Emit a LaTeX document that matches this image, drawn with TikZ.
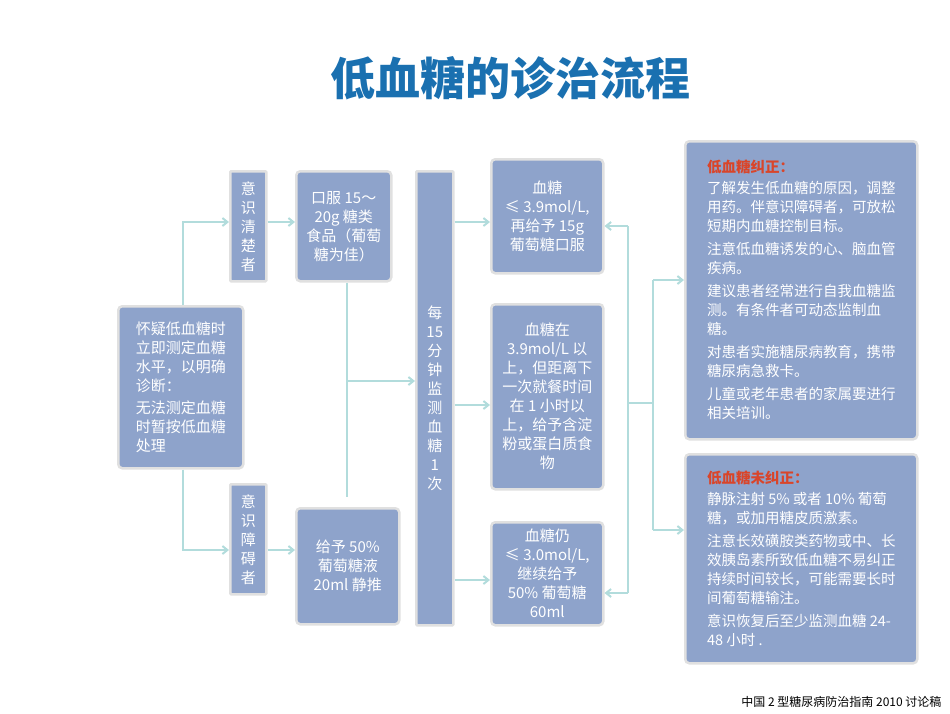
\documentclass[tikz,border=0pt]{standalone}
\usepackage{fontspec}
\setmainfont{Noto Sans CJK SC}
\usetikzlibrary{arrows.meta}
\definecolor{bx}{HTML}{8EA3CB}
\definecolor{ln}{HTML}{B2DCDC}
\definecolor{ttl}{HTML}{1A70B0}
\definecolor{hd}{HTML}{D9452A}
\begin{document}
\begin{tikzpicture}[x=1pt,y=-1pt,
  box/.style={fill=bx,draw=black!12,line width=2.5pt,rounded corners=4pt,text=white,font=\fontsize{15}{19}\selectfont,inner sep=1pt,align=center},
  sq/.style={box,rounded corners=1pt},
  ar/.style={draw=ln,line width=2pt,-{Straight Barb[length=5pt,width=8pt]}},
  li/.style={draw=ln,line width=2pt}]
\useasboundingbox (0,0) rectangle (950,713);
\node[font=\fontsize{45}{50}\selectfont\bfseries,text=ttl] (t) at (510,78) {低血糖的诊治流程};
\node[box,minimum width=125pt,minimum height=162pt,align=left,anchor=north west] (a) at (117,305)
 {怀疑低血糖时\\立即测定血糖\\水平，以明确\\诊断：\\[3pt]无法测定血糖\\时暂按低血糖\\处理};
\node[sq,minimum width=36pt,minimum height=110pt,anchor=north west] (c1) at (229,170) {意\\识\\清\\楚\\者};
\node[sq,minimum width=36pt,minimum height=110pt,anchor=north west] (c2) at (229,483) {意\\识\\障\\碍\\者};
\node[box,minimum width=95pt,minimum height=110pt,anchor=north west] (o1) at (295,170) {口服 15～\\20g 糖类\\食品（葡萄\\糖为佳）};
\node[box,minimum width=103pt,minimum height=116pt,anchor=north west] (o2) at (295,507) {给予 50\%\\葡萄糖液\\20ml 静推};
\node[sq,minimum width=37pt,minimum height=454pt,anchor=north west] (m) at (415,170) {每\\15\\分\\钟\\监\\测\\血\\糖\\1\\次};
\node[box,minimum width=112pt,minimum height=114pt,anchor=north west] (r1) at (490,158) {血糖\\≤ 3.9mol/L,\\再给予 15g\\葡萄糖口服};
\node[box,minimum width=112pt,minimum height=185pt,anchor=north west] (r2) at (490,303) {血糖在\\3.9mol/L 以\\上，但距离下\\一次就餐时间\\在 1 小时以\\上，给予含淀\\粉或蛋白质食\\物};
\node[box,minimum width=112pt,minimum height=103pt,anchor=north west] (r3) at (490,521) {血糖仍\\≤ 3.0mol/L,\\继续给予\\50\% 葡萄糖\\60ml};
\node[box,minimum width=232pt,minimum height=298pt,anchor=north west,align=left,inner sep=5pt,font=\fontsize{14.5}{19}\selectfont] (k1) at (684,140)
 {{\color{hd}\bfseries 低血糖纠正：}\\[2pt]了解发生低血糖的原因，调整\\用药。伴意识障碍者，可放松\\短期内血糖控制目标。\\[4pt]注意低血糖诱发的心、脑血管\\疾病。\\[4pt]建议患者经常进行自我血糖监\\测。有条件者可动态监制血\\糖。\\[4pt]对患者实施糖尿病教育，携带\\糖尿病急救卡。\\[4pt]儿童或老年患者的家属要进行\\相关培训。};
\node[box,minimum width=232pt,minimum height=209pt,anchor=north west,align=left,inner sep=5pt,font=\fontsize{14.5}{19}\selectfont] (k2) at (684,453)
 {{\color{hd}\bfseries 低血糖未纠正：}\\[2pt]静脉注射 5\% 或者 10\% 葡萄\\糖，或加用糖皮质激素。\\[4pt]注意长效磺胺类药物或中、长\\效胰岛素所致低血糖不易纠正\\持续时间较长，可能需要长时\\间葡萄糖输注。\\[4pt]意识恢复后至少监测血糖 24-\\48 小时 .};
\node[anchor=east,font=\fontsize{12}{14}\selectfont] (f) at (945,702) {中国 2 型糖尿病防治指南 2010 讨论稿};
\coordinate (p1) at (183,222); \coordinate (p2) at (183,550);
\draw[ar] (a.north -| p1) -- (p1) -- (c1.west |- p1);
\draw[ar] (a.south -| p2) -- (p2) -- (c2.west |- p2);
\draw[ar] (c1.east |- p1) -- (o1.west |- p1);
\draw[ar] (c2.east |- p2) -- (o2.west |- p2);
\coordinate (q) at (347,381);
\draw[li] (o1.south -| q) -- (347,497);
\draw[ar] (q) -- (m.west |- q);
\foreach \y/\n in {222/r1,405/r2,580/r3} \draw[ar] (m.east |- 0,\y) -- (\n.west |- 0,\y);
\coordinate (v1) at (628,226); \coordinate (v2) at (628,593); \coordinate (h) at (653,403);
\draw[li] (v1) -- (v2);
\draw[ar] (v1) -- (r1.east |- v1);
\draw[ar] (v2) -- (r3.east |- v2);
\draw[li] (628,403) -- (h);
\draw[li] (653,280) -- (653,530);
\draw[ar] (653,280) -- (k1.west |- 0,280);
\draw[ar] (653,530) -- (k2.west |- 0,530);
\end{tikzpicture}
\end{document}
